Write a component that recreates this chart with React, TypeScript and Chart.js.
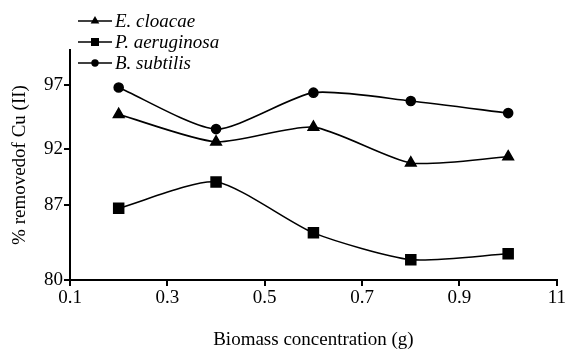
import React, { useEffect, useRef } from "react";
import { Chart, registerables, LinearScale } from "chart.js";

Chart.register(...registerables);

// ---- data ----
const biomass = [0.2, 0.4, 0.6, 0.8, 1.0];
const eCloacae = [94.7, 92.55, 93.7, 90.75, 91.3];
const pAeruginosa = [86.7, 89.05, 84.4, 81.9, 82.45];
const bSubtilis = [96.8, 93.55, 96.4, 95.75, 94.8];
const seriesNames = ["E. cloacae", "P. aeruginosa", "B. subtilis"];
const xTicks = [0.1, 0.3, 0.5, 0.7, 0.9, 1.1];
const xTickLabels = ["0.1", "0.3", "0.5", "0.7", "0.9", "11"];
const yTicks = [80, 87, 92, 97];
// the printed y axis is not evenly scaled: knot values and their axis fractions
const yKnotValues = [80, 87, 92, 97, 99.7];
const yKnotFractions = [0, 0.326, 0.57, 0.848, 1];

function toFraction(v: number): number {
  const k = yKnotValues, f = yKnotFractions;
  if (v <= k[0]) return f[0] + (v - k[0]) * (f[1] - f[0]) / (k[1] - k[0]);
  for (let i = 0; i < k.length - 1; i++) {
    if (v <= k[i + 1]) return f[i] + (v - k[i]) * (f[i + 1] - f[i]) / (k[i + 1] - k[i]);
  }
  const n = k.length - 1;
  return f[n] + (v - k[n]) * (f[n] - f[n - 1]) / (k[n] - k[n - 1]);
}
function fromFraction(d: number): number {
  const k = yKnotValues, f = yKnotFractions;
  for (let i = 0; i < f.length - 1; i++) {
    if (d <= f[i + 1]) return k[i] + (d - f[i]) * (k[i + 1] - k[i]) / (f[i + 1] - f[i]);
  }
  return k[k.length - 1];
}

class PiecewiseScale extends LinearScale {
  static id = "piecewise";
  static defaults = (LinearScale as any).defaults;
  getPixelForValue(value: number) {
    return this.getPixelForDecimal(toFraction(value));
  }
  getValueForPixel(pixel: number) {
    return fromFraction(this.getDecimalForPixel(pixel));
  }
}
Chart.register(PiecewiseScale as any);

const FONT = "'Liberation Serif', 'Times New Roman', serif";

function drawMarker(ctx: CanvasRenderingContext2D, style: string, x: number, y: number) {
  ctx.beginPath();
  if (style === "triangle") {
    const r = 5;
    ctx.moveTo(x, y - r);
    ctx.lineTo(x + r * 0.866, y + r * 0.5);
    ctx.lineTo(x - r * 0.866, y + r * 0.5);
    ctx.closePath();
  } else if (style === "rect") {
    ctx.rect(x - 4, y - 4, 8, 8);
  } else {
    ctx.arc(x, y, 3.7, 0, Math.PI * 2);
  }
  ctx.fill();
}

const legendPlugin = {
  id: "customLegend",
  afterDraw(chart: any) {
    const ctx = chart.ctx;
    const rows = [21, 42, 63];
    ctx.save();
    chart.data.datasets.forEach((ds: any, i: number) => {
      const y = rows[i];
      ctx.strokeStyle = "#000";
      ctx.lineWidth = 1.6;
      ctx.beginPath();
      ctx.moveTo(78, y);
      ctx.lineTo(112, y);
      ctx.stroke();
      ctx.fillStyle = "#000";
      drawMarker(ctx, ds.pointStyle, 95, y);
      ctx.font = `italic 19px ${FONT}`;
      ctx.textBaseline = "middle";
      ctx.textAlign = "left";
      ctx.fillText(ds.label, 115, y + 1);
    });
    ctx.restore();
  },
};

export default function App() {
  const ref = useRef<HTMLCanvasElement | null>(null);
  useEffect(() => {
    document.body.style.margin = "0";
    const canvas = ref.current!;
    const common = {
      borderColor: "#000",
      backgroundColor: "#000",
      pointBackgroundColor: "#000",
      pointBorderColor: "#000",
      borderWidth: 1.6,
      tension: 0.22,
      fill: false,
    };
    const chart = new Chart(canvas, {
      type: "line",
      data: {
        datasets: [
          { ...common, label: seriesNames[0], data: biomass.map((x, i) => ({ x, y: eCloacae[i] })), pointStyle: "triangle", pointRadius: 6 },
          { ...common, label: seriesNames[1], data: biomass.map((x, i) => ({ x, y: pAeruginosa[i] })), pointStyle: "rect", pointRadius: 7 },
          { ...common, label: seriesNames[2], data: biomass.map((x, i) => ({ x, y: bSubtilis[i] })), pointStyle: "circle", pointRadius: 4.5 },
        ],
      },
      options: {
        animation: false,
        responsive: false,
        maintainAspectRatio: false,
        layout: { padding: { left: 0, top: 50, right: 8, bottom: 0 } },
        plugins: { legend: { display: false }, tooltip: { enabled: false } },
        scales: {
          x: {
            type: "linear",
            min: 0.1,
            max: 1.1,
            afterBuildTicks: (s: any) => { s.ticks = xTicks.map((v) => ({ value: v })); },
            afterFit: (s: any) => { s.height = 72; },
            ticks: {
              color: "#000",
              font: { family: FONT, size: 19 },
              padding: 1,
              maxRotation: 0,
              callback: (v: any) => { const i = xTicks.findIndex((t) => Math.abs(t - v) < 1e-6); return i >= 0 ? xTickLabels[i] : ""; },
            },
            grid: { drawOnChartArea: false, drawTicks: true, tickLength: 6, color: "#000", lineWidth: 2 },
            border: { display: true, color: "#000", width: 2 },
            title: { display: true, text: "Biomass concentration (g)", color: "#000", font: { family: FONT, size: 19 }, padding: { top: 0, bottom: 1 } },
          },
          y: {
            type: "piecewise" as any,
            min: 80,
            max: 99.7,
            afterBuildTicks: (s: any) => { s.ticks = yTicks.map((v) => ({ value: v })); },
            afterFit: (s: any) => { s.width = 70; },
            ticks: { color: "#000", font: { family: FONT, size: 19 }, padding: 1, callback: (v: any) => String(v) },
            grid: { drawOnChartArea: false, drawTicks: true, tickLength: 6, color: "#000", lineWidth: 2 },
            border: { display: true, color: "#000", width: 2 },
            title: { display: true, text: "% removedof Cu (II)", color: "#000", font: { family: FONT, size: 19 }, padding: { top: 9, bottom: 0 } },
          },
        },
      } as any,
      plugins: [legendPlugin],
    });
    return () => chart.destroy();
  }, []);
  return (
    <div style={{ width: 567, height: 352 }}>
      <canvas ref={ref} width={567} height={352} style={{ display: "block" }} />
    </div>
  );
}
